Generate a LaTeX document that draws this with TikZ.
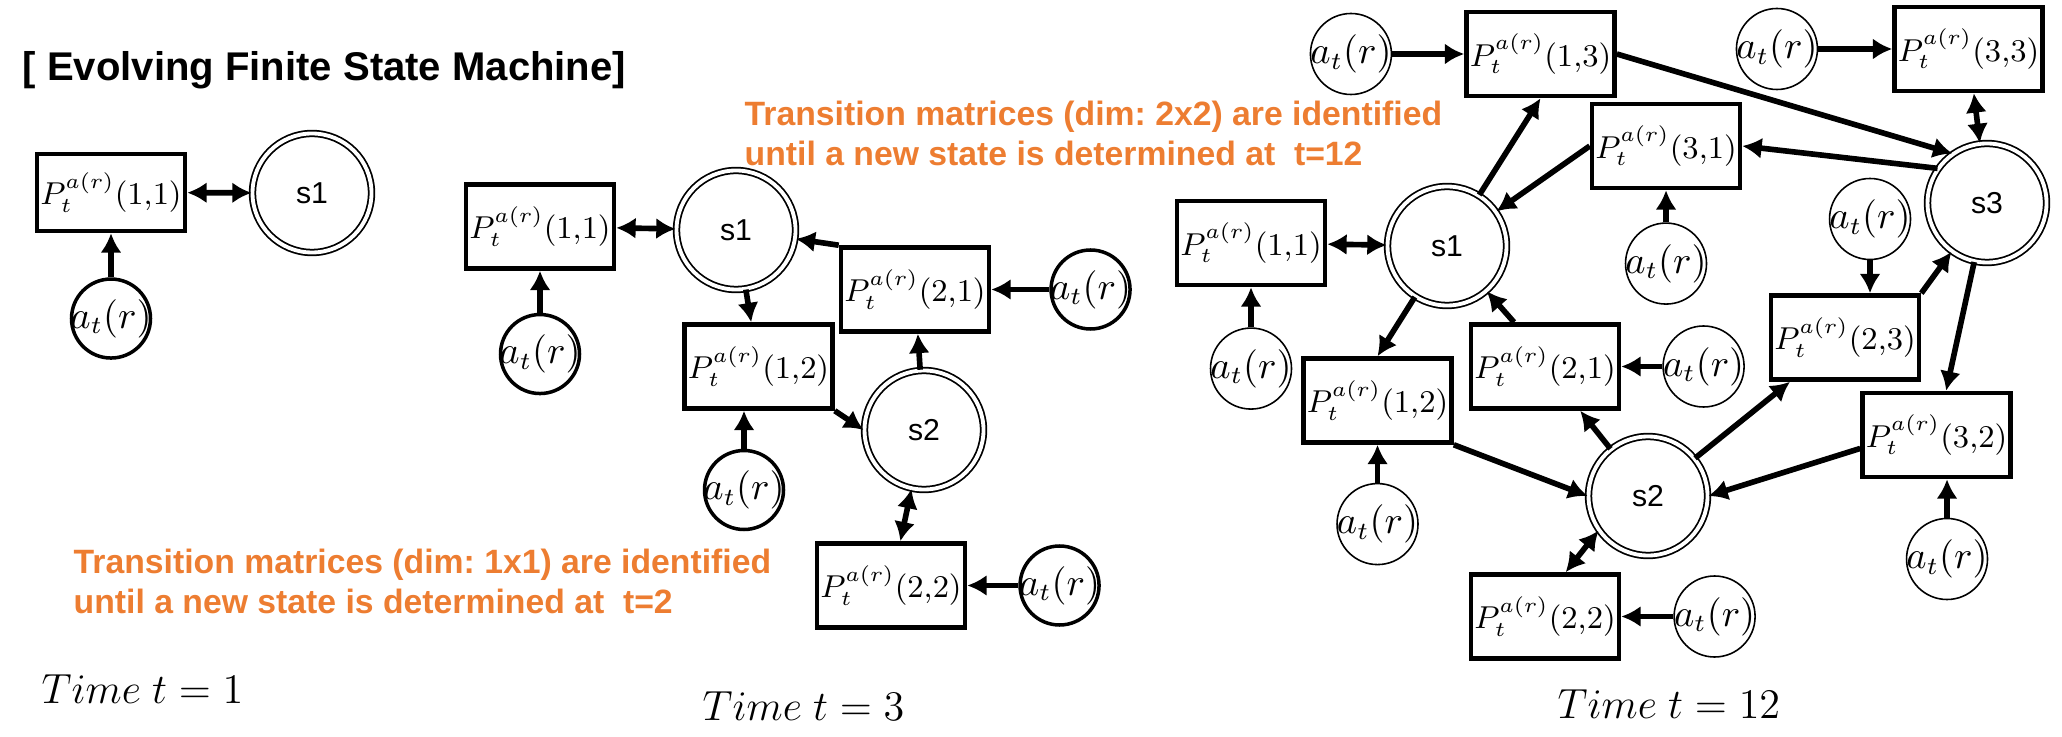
\documentclass[tikz,border=0pt]{standalone}
\usepackage{fontspec}
\setmainfont{Liberation Sans}
\usepackage{tikz}
\usetikzlibrary{arrows.meta,positioning}
\definecolor{noteorange}{RGB}{237,125,49}

\begin{document}
\begin{tikzpicture}[
    >={Latex[length=5.5pt,width=6pt]},
    link/.style={line width=1.6pt},
    pbox/.style={draw, rectangle, line width=1.3pt, inner sep=0pt, minimum width=1.48cm, minimum height=0.84cm, font=\fontsize{9.2}{12}\selectfont},
    state/.style={circle, draw, double, line width=0.5pt, double distance=1.1pt, minimum size=1.19cm, inner sep=0pt, font=\fontsize{8.6}{10}\selectfont},
    act/.style={circle, draw, line width=1pt, minimum size=0.79cm, inner sep=0pt, label={[font=\fontsize{10.5}{12}\selectfont]center:$a_t(r)$}},
    actthin/.style={act, line width=0.45pt, minimum size=0.81cm},
    note/.style={anchor=north west, inner sep=0pt, align=left, text=noteorange, font=\fontsize{9.6}{11.4}\selectfont\bfseries\frenchspacing},
    timelabel/.style={anchor=base west, inner sep=0pt, font=\fontsize{11.6}{13}\selectfont}
  ]
  \useasboundingbox (0,0) rectangle (20.62,7.36);

  % t = 1
  \node[anchor=west, inner sep=0pt, font=\fontsize{11.4}{13}\selectfont\bfseries] (title) at (0.22,6.66) {[ Evolving Finite State Machine]};
  \node[pbox, minimum height=0.77cm] (p11a) at (1.11,5.435) {$P_t^{a(r)}(1{,}1)$};
  \node[state] (s1a) at (3.12,5.43) {s1};
  \node[act, below=0.44cm of p11a] (a1) {};
  \draw[link,->] (a1) -- (p11a);
  \draw[link,<->] (p11a) -- (s1a);
  \node[timelabel] (time1) at (0.41,0.33) {$Time\ t=1$};

  \node[note] (note1) at (0.73,1.88) {Transition matrices (dim: 1x1) are identified\\until a new state is determined at\ \ t=2};

  % t = 3
  \node[pbox] (p11b) at (5.40,5.095) {$P_t^{a(r)}(1{,}1)$};
  \node[state] (s1b) at (7.36,5.06) {s1};
  \node[pbox] (p12b) at (7.585,3.695) {$P_t^{a(r)}(1{,}2)$};
  \node[pbox] (p21b) at (9.15,4.465) {$P_t^{a(r)}(2{,}1)$};
  \node[state] (s2b) at (9.24,3.06) {s2};
  \node[pbox] (p22b) at (8.91,1.505) {$P_t^{a(r)}(2{,}2)$};
  \node[act, below=0.42cm of p11b] (a11b) {};
  \node[act] (a12b) at (7.44,2.46) {};
  \node[act, right=0.58cm of p21b] (a21b) {};
  \node[act, right=0.51cm of p22b] (a22b) {};

  \draw[link,->] (a11b) -- (p11b);
  \draw[link,<->] (p11b) -- (s1b);
  \draw[link,->] (s1b) -- (p12b);
  \draw[link,->] (p21b.north west) -- (s1b);
  \draw[link,->] (a12b) -- (a12b |- p12b.south);
  \draw[link,->] (p12b.south east) -- (s2b.west);
  \draw[link,->] (s2b) -- (p21b);
  \draw[link,<->] (s2b) -- (p22b);
  \draw[link,->] (a21b) -- (p21b);
  \draw[link,->] (a22b) -- (p22b);
  \node[timelabel] (time3) at (7.02,0.16) {$Time\ t=3$};

  \node[note] (note2) at (7.44,6.36) {Transition matrices (dim: 2x2) are identified\\until a new state is determined at\ \ t=12};

  % t = 12
  \node[pbox] (p13c) at (15.405,6.82) {$P_t^{a(r)}(1{,}3)$};
  \node[pbox] (p33c) at (19.685,6.87) {$P_t^{a(r)}(3{,}3)$};
  \node[pbox] (p31c) at (16.66,5.90) {$P_t^{a(r)}(3{,}1)$};
  \node[pbox] (p11c) at (12.51,4.93) {$P_t^{a(r)}(1{,}1)$};
  \node[pbox] (p23c) at (18.45,3.985) {$P_t^{a(r)}(2{,}3)$};
  \node[pbox] (p12c) at (13.775,3.355) {$P_t^{a(r)}(1{,}2)$};
  \node[pbox] (p21c) at (15.45,3.695) {$P_t^{a(r)}(2{,}1)$};
  \node[pbox] (p32c) at (19.365,3.01) {$P_t^{a(r)}(3{,}2)$};
  \node[pbox] (p22c) at (15.45,1.195) {$P_t^{a(r)}(2{,}2)$};
  \node[state] (s1c) at (14.47,4.90) {s1};
  \node[state] (s2c) at (16.48,2.40) {s2};
  \node[state] (s3c) at (19.87,5.33) {s3};

  \node[actthin, left=0.72cm of p13c] (a13c) {};
  \node[actthin, left=0.74cm of p33c] (a33c) {};
  \node[actthin, below=0.32cm of p31c] (a31c) {};
  \node[actthin, below=0.40cm of p11c] (a11c) {};
  \node[actthin] (a23c) at (18.70,5.17) {};
  \node[actthin, below=0.38cm of p12c] (a12c) {};
  \node[actthin, right=0.41cm of p21c] (a21c) {};
  \node[actthin] (a32c) at (19.47,1.77) {};
  \node[actthin, right=0.52cm of p22c] (a22c) {};

  \draw[link,->] (a13c) -- (p13c);
  \draw[link,->] (a33c) -- (p33c);
  \draw[link,->] (a31c) -- (p31c);
  \draw[link,->] (a11c) -- (p11c);
  \draw[link,->] (a23c) -- (a23c |- p23c.north);
  \draw[link,->] (a12c) -- (p12c);
  \draw[link,->] (a21c) -- (p21c);
  \draw[link,->] (a32c) -- (a32c |- p32c.south);
  \draw[link,->] (a22c) -- (p22c);

  \draw[link,<->] (p11c) -- (s1c);
  \draw[link,->] (s1c) -- (p13c.south);
  \draw[link,->] (p31c.west) -- (s1c);
  \draw[link,->] (s1c) -- (p12c.north);
  \draw[link,->] (p21c.125) -- (s1c);
  \draw[link,->] (p13c.east) -- (s3c.125);
  \draw[link,->] (s3c.145) -- (p31c.east);
  \draw[link,<->] (p33c) -- (s3c);
  \draw[link,->] (p23c.north east) -- (s3c);
  \draw[link,->] (s3c) -- (p32c);
  \draw[link,->] (s2c) -- (p21c);
  \draw[link,->] (p12c.south east) -- (s2c.west);
  \draw[link,->] (s2c) -- (p23c);
  \draw[link,->] (p32c.190) -- (s2c.east);
  \draw[link,<->] (s2c.215) -- (p22c.65);
  \node[timelabel] (time12) at (15.57,0.18) {$Time\ t=12$};
\end{tikzpicture}
\end{document}
